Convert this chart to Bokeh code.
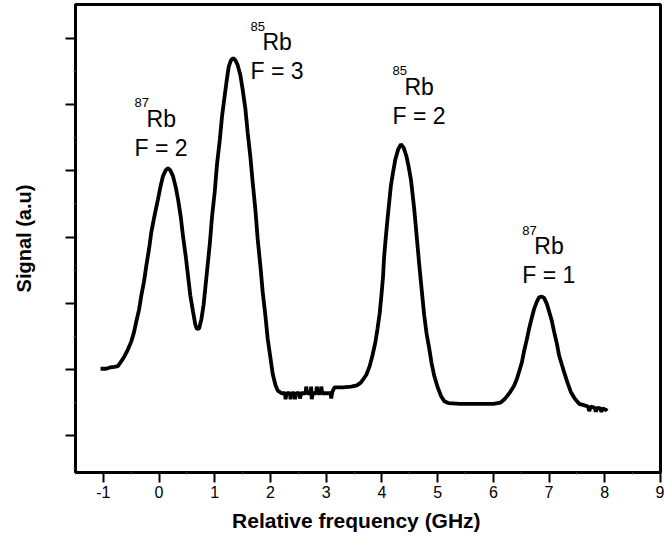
from bokeh.plotting import figure
from bokeh.models import FixedTicker, Range1d, ColumnDataSource
from bokeh.embed import file_html
from bokeh.resources import INLINE
from bokeh.core.properties import value

# Relative frequency (GHz) and signal (a.u.)
freq = [-1.05, -0.95, -0.88, -0.80, -0.74, -0.68, -0.62, -0.56, -0.50, -0.45,
        -0.41, -0.36, -0.32, -0.27, -0.23, -0.18, -0.14, -0.08, -0.02, 0.03,
        0.07, 0.12, 0.16, 0.20, 0.25, 0.30, 0.34, 0.39, 0.43, 0.48,
        0.52, 0.56, 0.61, 0.65, 0.68, 0.72, 0.76, 0.80, 0.86, 0.91,
        0.95, 1.00, 1.04, 1.09, 1.13, 1.18, 1.22, 1.25, 1.29, 1.33,
        1.37, 1.41, 1.46, 1.50, 1.55, 1.59, 1.64, 1.68, 1.73, 1.77,
        1.82, 1.86, 1.91, 1.95, 2.00, 2.04, 2.09, 2.13, 2.20, 2.26,
        2.27, 2.29, 2.35, 2.36, 2.38, 2.43, 2.44, 2.46, 2.52, 2.53,
        2.55, 2.63, 2.64, 2.66, 2.72, 2.73, 2.74, 2.76, 2.82, 2.83,
        2.85, 2.90, 2.91, 2.93, 3.08, 3.09, 3.11, 3.15, 3.30, 3.45,
        3.55, 3.62, 3.68, 3.72, 3.78, 3.83, 3.88, 3.92, 3.96, 3.99,
        4.02, 4.04, 4.07, 4.10, 4.13, 4.16, 4.20, 4.24, 4.29, 4.34,
        4.39, 4.44, 4.48, 4.52, 4.55, 4.58, 4.61, 4.64, 4.67, 4.70,
        4.73, 4.76, 4.80, 4.85, 4.89, 4.94, 5.00, 5.06, 5.12, 5.20,
        5.40, 5.60, 5.80, 6.00, 6.13, 6.20, 6.25, 6.31, 6.37, 6.42,
        6.46, 6.51, 6.55, 6.60, 6.64, 6.69, 6.73, 6.78, 6.82, 6.87,
        6.91, 6.96, 7.00, 7.05, 7.09, 7.14, 7.18, 7.23, 7.27, 7.33,
        7.39, 7.46, 7.54, 7.62, 7.70, 7.72, 7.75, 7.82, 7.84, 7.86,
        7.92, 7.94, 7.96, 8.02, 8.04]
signal = [1.01, 1.01, 1.03, 1.04, 1.05, 1.12, 1.20, 1.30, 1.42, 1.56,
          1.72, 1.90, 2.11, 2.33, 2.56, 2.82, 3.07, 3.33, 3.57, 3.78,
          3.92, 4.01, 4.04, 4.01, 3.92, 3.75, 3.57, 3.30, 3.01, 2.70,
          2.41, 2.12, 1.87, 1.68, 1.61, 1.62, 1.76, 1.98, 2.48, 2.89,
          3.30, 3.69, 4.10, 4.47, 4.82, 5.15, 5.40, 5.57, 5.67, 5.70,
          5.67, 5.60, 5.44, 5.23, 4.93, 4.58, 4.20, 3.83, 3.40, 2.97,
          2.55, 2.17, 1.80, 1.46, 1.17, 0.93, 0.76, 0.68, 0.64, 0.64,
          0.55, 0.64, 0.64, 0.55, 0.64, 0.64, 0.55, 0.64, 0.64, 0.56,
          0.64, 0.64, 0.74, 0.64, 0.64, 0.74, 0.55, 0.64, 0.64, 0.74,
          0.64, 0.64, 0.74, 0.64, 0.64, 0.56, 0.66, 0.73, 0.73, 0.74,
          0.76, 0.80, 0.87, 0.92, 1.05, 1.21, 1.40, 1.61, 1.85, 2.11,
          2.40, 2.71, 3.00, 3.27, 3.52, 3.77, 3.98, 4.17, 4.32, 4.40,
          4.35, 4.22, 4.06, 3.87, 3.65, 3.42, 3.14, 2.86, 2.58, 2.32,
          2.06, 1.81, 1.55, 1.31, 1.10, 0.90, 0.73, 0.60, 0.52, 0.49,
          0.48, 0.48, 0.48, 0.48, 0.50, 0.55, 0.60, 0.67, 0.75, 0.85,
          0.96, 1.10, 1.27, 1.45, 1.61, 1.78, 1.91, 2.02, 2.09, 2.10,
          2.08, 1.99, 1.88, 1.73, 1.57, 1.39, 1.21, 1.07, 0.96, 0.80,
          0.66, 0.56, 0.48, 0.46, 0.44, 0.37, 0.44, 0.42, 0.36, 0.42,
          0.41, 0.36, 0.41, 0.39, 0.37]

x_ticks = [-1, 0, 1, 2, 3, 4, 5, 6, 7, 8, 9]
x_tick_labels = ["-1", "0", "1", "2", "3", "4", "5", "6", "7", "8", "9"]
x_minor = [-1.5, -0.5, 0.5, 1.5, 2.5, 3.5, 4.5, 5.5, 6.5, 7.5, 8.5]
y_ticks = [0, 1, 2, 3, 4, 5, 6]
y_minor = [-0.5, 0.5, 1.5, 2.5, 3.5, 4.5, 5.5]

# peak annotations
isotopes = ["87", "85", "85", "87"]
levels = ["F = 2", "F = 3", "F = 2", "F = 1"]
label_x = [-0.44, 1.64, 4.19, 6.52]
label_y = [4.35, 5.50, 4.83, 2.42]

FONT = "Liberation Sans"

p = figure(width=664, height=541, output_backend="svg", toolbar_location=None,
           x_range=Range1d(-1.5, 9.0), y_range=Range1d(-0.557, 6.512),
           min_border_left=75, min_border_right=4, min_border_top=4,
           min_border_bottom=69)
p.background_fill_color = "white"
p.border_fill_color = "white"
p.outline_line_color = "black"
p.outline_line_width = 3
p.xgrid.visible = False
p.ygrid.visible = False

p.line(freq, signal, line_color="black", line_width=3.8, line_join="bevel")

src = ColumnDataSource(dict(x=label_x, y=label_y, iso=isotopes, lev=levels))
p.text(x="x", y="y", text="lev", source=src, text_font=value(FONT),
       text_font_size=value("23px"), text_color="black",
       text_align="left", text_baseline="alphabetic")
p.text(x="x", y="y", text=value("Rb"), source=src, text_font=value(FONT),
       text_font_size=value("23px"), text_color="black",
       text_align="left", text_baseline="alphabetic", x_offset=12, y_offset=-29)
p.text(x="x", y="y", text="iso", source=src, text_font=value(FONT),
       text_font_size=value("13px"), text_color="black",
       text_align="left", text_baseline="alphabetic", x_offset=0, y_offset=-45)

for ax in (p.xaxis[0], p.yaxis[0]):
    ax.axis_line_width = 3
    ax.axis_line_color = "black"
    ax.major_tick_line_width = 2
    ax.major_tick_line_color = "black"
    ax.major_tick_out = 10
    ax.major_tick_in = 0
    ax.minor_tick_line_width = 1
    ax.minor_tick_line_color = "#555555"
    ax.minor_tick_out = 2
    ax.minor_tick_in = 0
    ax.axis_label_text_font = FONT
    ax.axis_label_text_font_style = "bold"
    ax.axis_label_text_color = "black"
    ax.major_label_text_font = FONT
    ax.major_label_text_color = "black"

p.xaxis.ticker = FixedTicker(ticks=x_ticks, minor_ticks=x_minor)
p.xaxis.major_label_overrides = dict(zip(x_ticks, x_tick_labels))
p.yaxis.ticker = FixedTicker(ticks=y_ticks, minor_ticks=y_minor)
p.xaxis.major_label_text_font_size = "16px"
p.xaxis.major_label_standoff = 3
p.yaxis.major_label_overrides = {t: "" for t in y_ticks}
p.yaxis.major_label_text_font_size = "16px"
p.yaxis.major_label_standoff = 0

# trailing no-break spaces nudge the centred title left, under the -1..8 span
p.xaxis.axis_label = "Relative frequency (GHz)" + "\u00a0" * 4
p.xaxis.axis_label_text_font_size = "21px"
p.xaxis.axis_label_standoff = 8
p.yaxis.axis_label = "Signal (a.u)"
p.yaxis.axis_label_text_font_size = "20px"
p.yaxis.axis_label_standoff = 31

open("out.html", "w").write(file_html(p, INLINE))
